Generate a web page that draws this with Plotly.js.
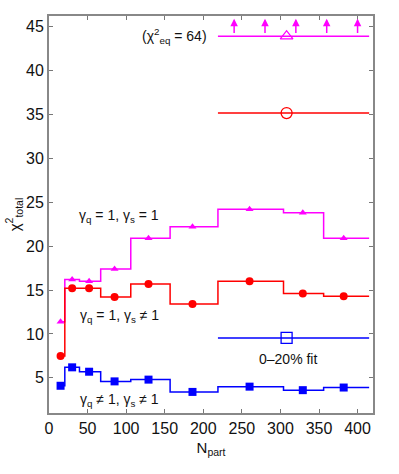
<!DOCTYPE html>
<html>
<head>
<meta charset="utf-8">
<script src="https://cdn.plot.ly/plotly-3.0.1.min.js"></script>
<style>
  html, body { margin: 0; padding: 0; background: #fff; }
  #grafico { width: 399px; height: 474px; }
</style>
</head>
<body>
<div id="grafico"></div>
<script>
// centralidade: N_part nos centros e bordas dos bins
const npart = [15, 30, 52, 85, 129, 186, 260, 329, 382];
const binEdges = [15, 20.5, 39.5, 67, 106, 157, 219, 304, 356, 415];

// chi2 total por bin
const chiGqGs1 = [11.4, 16.2, 16.0, 17.4, 20.9, 22.2, 24.2, 23.8, 20.9];   // gamma_q = 1, gamma_s = 1
const chiGq1 = [7.5, 15.2, 15.2, 14.2, 15.7, 13.4, 16.0, 14.6, 14.3];      // gamma_q = 1, gamma_s != 1
const chiLivre = [4.1, 6.2, 5.7, 4.6, 4.8, 3.4, 4.0, 3.6, 3.9];            // gamma_q != 1, gamma_s != 1

// ajuste 0-20%
const fitRange = [219, 415];
const fitX = 308;
const fitChi = [43.9, 35.15, 9.55];   // magenta (fora da escala: 64), vermelho, azul
const arrowX = [240, 280, 320, 360, 400];

const cores = ['#ff00ff', '#ff0000', '#0000ff'];
const fonte = 'Liberation Sans, Arial, sans-serif';

function degraus(vals, cor) {
  return {
    type: 'scatter',
    mode: 'lines',
    x: binEdges,
    y: vals.concat([vals[vals.length - 1]]),
    line: { shape: 'hv', color: cor, width: 1.5 },
    hoverinfo: 'skip',
    showlegend: false
  };
}

function pontos(vals, cor, simbolo, tam) {
  return {
    type: 'scatter',
    mode: 'markers',
    x: npart,
    y: vals,
    marker: { symbol: simbolo, color: cor, size: tam },
    showlegend: false
  };
}

function linhaFit(valor, cor, simbolo, tam) {
  return [
    {
      type: 'scatter',
      mode: 'lines',
      x: fitRange,
      y: [valor, valor],
      line: { color: cor, width: 1.5 },
      showlegend: false
    },
    {
      type: 'scatter',
      mode: 'markers',
      x: [fitX],
      y: [valor],
      marker: { symbol: simbolo, color: cor, size: tam, line: { width: 1.3 } },
      showlegend: false
    }
  ];
}

const traces = [
  degraus(chiGqGs1, cores[0]),
  degraus(chiGq1, cores[1]),
  degraus(chiLivre, cores[2]),
  pontos(chiGqGs1, cores[0], 'triangle-up', 7),
  pontos(chiGq1, cores[1], 'circle', 8),
  pontos(chiLivre, cores[2], 'square', 8)
]
  .concat(linhaFit(fitChi[0], cores[0], 'triangle-up-open', 11))
  .concat(linhaFit(fitChi[1], cores[1], 'circle-open', 11))
  .concat(linhaFit(fitChi[2], cores[2], 'square-open', 11));

// setas: chi2 do ajuste magenta fora da escala
const setas = arrowX.map(ax => ({
  x: ax, y: 45.9, xref: 'x', yref: 'y',
  ax: ax, ay: 44.1, axref: 'x', ayref: 'y',
  text: '', showarrow: true,
  arrowhead: 2, arrowsize: 1, arrowwidth: 1.5, arrowcolor: cores[0]
}));

const textos = [
  { x: 208, y: 43.9, xanchor: 'right', text: '(χ<sup>2</sup><sub>eq</sub> = 64)' },
  { x: 91, y: 23.4, xanchor: 'center', text: 'γ<sub>q</sub> = 1, γ<sub>s</sub> = 1' },
  { x: 91, y: 12.0, xanchor: 'center', text: 'γ<sub>q</sub> = 1, γ<sub>s</sub> ≠ 1' },
  { x: 91, y: 2.5, xanchor: 'center', text: 'γ<sub>q</sub> ≠ 1, γ<sub>s</sub> ≠ 1' },
  { x: 310, y: 7.1, xanchor: 'center', text: '0–20% fit' }
].map(t => Object.assign({
  xref: 'x', yref: 'y', showarrow: false, yanchor: 'middle',
  font: { family: fonte, size: 14, color: '#111' }
}, t));

const layout = {
  width: 399,
  height: 474,
  margin: { l: 49, r: 26, t: 16, b: 61 },
  paper_bgcolor: '#fff',
  plot_bgcolor: '#fff',
  font: { family: fonte, size: 16, color: '#111' },
  xaxis: {
    range: [0, 420],
    tickvals: [0, 50, 100, 150, 200, 250, 300, 350, 400],
    ticks: 'inside', ticklen: 4, tickcolor: '#777',
    showline: true, linecolor: '#888', linewidth: 2, mirror: 'ticks',
    showgrid: false, zeroline: false,
    title: { text: 'N<sub>part</sub>', standoff: 6, font: { size: 15 } }
  },
  yaxis: {
    range: [1, 46.2],
    tickvals: [5, 10, 15, 20, 25, 30, 35, 40, 45],
    ticks: 'inside', ticklen: 4, tickcolor: '#777',
    showline: true, linecolor: '#888', linewidth: 2, mirror: 'ticks',
    showgrid: false, zeroline: false,
    title: { text: 'χ<sup>2</sup><sub>total</sub>', standoff: 2, font: { size: 15 } }
  },
  annotations: setas.concat(textos),
  showlegend: false
};

Plotly.newPlot('grafico', traces, layout, { displayModeBar: false, staticPlot: true });
</script>
</body>
</html>
